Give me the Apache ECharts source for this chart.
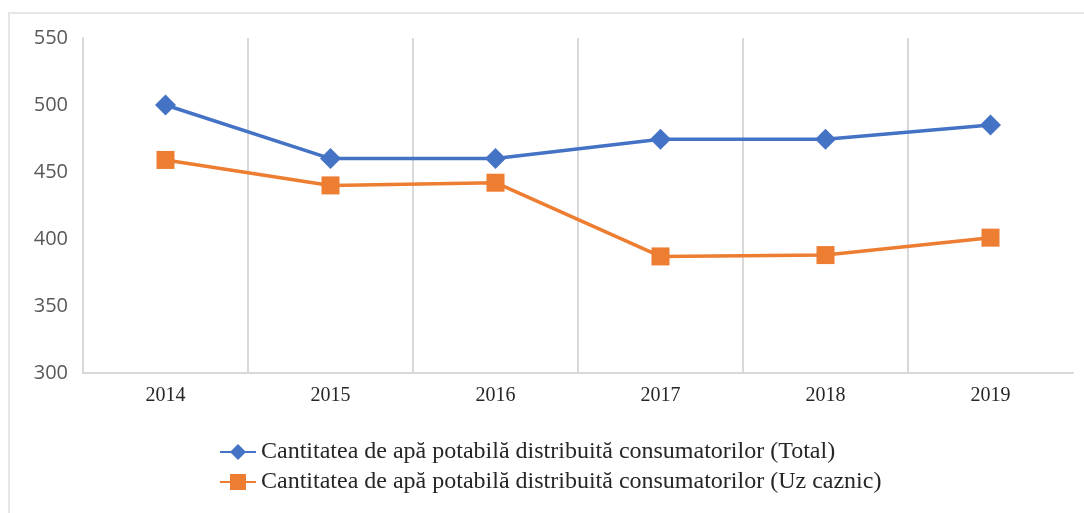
<!DOCTYPE html>
<html><head><meta charset="utf-8">
<script src="https://cdn.jsdelivr.net/npm/echarts@6/dist/echarts.min.js"></script>
<style>
html,body{margin:0;padding:0;background:#fff;}
#frame{position:absolute;left:8px;top:12px;width:1090px;height:520px;border-left:2px solid #e6e6e6;border-top:2px solid #e6e6e6;}
#chart{position:absolute;left:0;top:0;width:1084px;height:513px;}
</style></head>
<body>
<div id="frame"></div>
<div id="chart"></div>
<script>
const categories = ['2014','2015','2016','2017','2018','2019'];
const totalValues = [500, 460, 460, 474.5, 474.5, 485];
const casnicValues = [459, 440, 442, 387, 388, 401];
const seriesNames = ['Cantitatea de apă potabilă distribuită consumatorilor (Total)','Cantitatea de apă potabilă distribuită consumatorilor (Uz caznic)'];
const yMin = 300, yMax = 550, yStep = 50;

const chart = echarts.init(document.getElementById('chart'), null, {renderer:'canvas'});
chart.setOption({
  animation:false,
  backgroundColor:'transparent',
  grid:{left:83, right:11, top:38, bottom:140},
  legend:{
    orient:'vertical', left:214, top:435, itemGap:6, itemWidth:36, itemHeight:20,
    textStyle:{fontFamily:'Liberation Serif', fontSize:24, color:'#262626'},
    data:seriesNames
  },
  xAxis:{
    type:'category', data:categories, boundaryGap:true,
    axisLine:{lineStyle:{color:'#d9d9d9', width:2}},
    axisTick:{show:false},
    splitLine:{show:true, showMaxLine:false, lineStyle:{color:'#d9d9d9', width:2}},
    axisLabel:{fontFamily:'Liberation Serif', fontSize:20, color:'#262626', margin:13}
  },
  yAxis:{
    type:'value', min:yMin, max:yMax, interval:yStep,
    axisLine:{show:true, lineStyle:{color:'#d9d9d9', width:2}},
    axisTick:{show:false},
    splitLine:{show:false},
    axisLabel:{fontFamily:'Open Sans', fontSize:20, color:'#595959', margin:15}
  },
  series:[
    {name:seriesNames[0], type:'line', data:totalValues, symbol:'diamond', symbolSize:[21,21],
     lineStyle:{color:'#4472c4', width:3.5}, itemStyle:{color:'#4472c4'}},
    {name:seriesNames[1], type:'line', data:casnicValues, symbol:'rect', symbolSize:18,
     lineStyle:{color:'#ed7d31', width:3.5}, itemStyle:{color:'#ed7d31'}}
  ]
});
</script>
</body></html>
